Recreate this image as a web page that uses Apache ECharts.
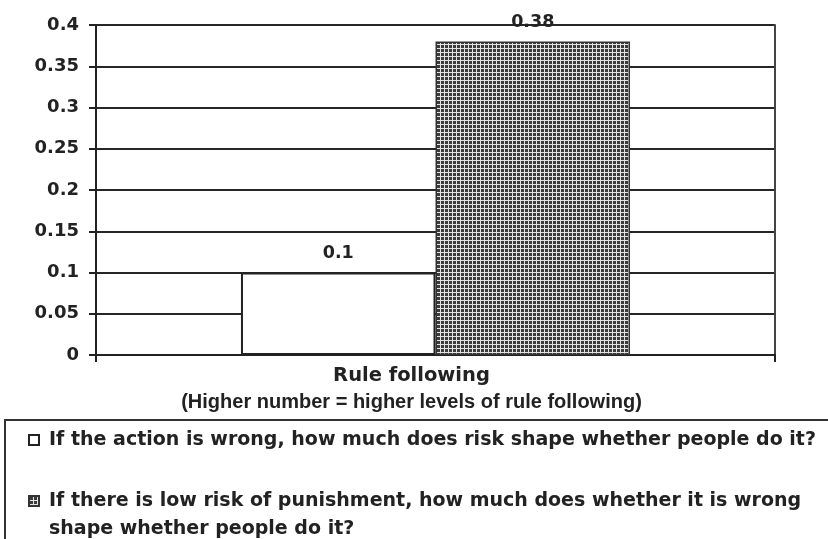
<!DOCTYPE html>
<html>
<head>
<meta charset="utf-8">
<script src="https://cdn.jsdelivr.net/npm/echarts@6/dist/echarts.min.js"></script>
<style>
  html, body { margin: 0; padding: 0; background: #fff; }
  #chart { width: 828px; height: 539px; }
</style>
</head>
<body>
<div id="chart"></div>
<script>
// Chart data
const categories = ['Rule following'];
const seriesNames = [
  'If the action is wrong, how much does risk shape whether people do it?',
  'If there is low risk of punishment, how much does whether it is wrong shape whether people do it?'
];
const riskShapeValues = [0.1];
const wrongShapeValues = [0.38];
const axisSubtitle = '(Higher number = higher levels of rule following)';
const yMin = 0;
const yMax = 0.4;
const yStep = 0.05;

const INK = '#222';
const TEXT_FONT = 'DejaVu Sans';

// Small checkered tile used to fill the second bar
function makeGridPattern() {
  const c = document.createElement('canvas');
  c.width = 4; c.height = 4;
  const ctx = c.getContext('2d');
  ctx.fillStyle = '#e4e4e4';
  ctx.fillRect(0, 0, 4, 4);
  ctx.fillStyle = '#3a3a3a';
  ctx.fillRect(1, 1, 3, 3);
  return c;
}
const gridPattern = { image: makeGridPattern(), repeat: 'repeat' };

// Legend icons: a 10px square inside a taller box so that the square
// sits level with the first line of each legend entry.
const iconCentered = 'path://M0,0 M0,14h10v10h-10z M15,38';
const iconTop = 'path://M0,0h10v10h-10z M15,38';

const chart = echarts.init(document.getElementById('chart'), null, { renderer: 'canvas' });

const labelStyle = {
  show: true,
  position: 'top',
  distance: 10,
  fontFamily: TEXT_FONT,
  fontWeight: 'bold',
  fontSize: 17.5,
  color: INK,
  formatter: p => String(p.value)
};

chart.setOption({
  animation: false,
  backgroundColor: '#fff',
  grid: { left: 96, right: 53, top: 25, bottom: 184 },
  xAxis: {
    type: 'category',
    data: categories,
    boundaryGap: true,
    axisLine: { show: true, lineStyle: { color: INK, width: 2 } },
    axisTick: { show: true, length: 7, lineStyle: { color: INK, width: 2 } },
    axisLabel: {
      margin: 11,
      fontFamily: TEXT_FONT,
      fontWeight: 'bold',
      fontSize: 19.5,
      color: INK,
      padding: [0, 48, 0, 0]
    },
    name: axisSubtitle,
    nameLocation: 'middle',
    nameGap: 37,
    nameTextStyle: {
      fontFamily: 'Arial, Liberation Sans, sans-serif',
      fontWeight: 'bold',
      fontSize: 20,
      color: INK,
      padding: [0, 48, 0, 0]
    }
  },
  yAxis: [
    {
      type: 'value',
      min: yMin,
      max: yMax,
      interval: yStep,
      axisLine: { show: true, lineStyle: { color: INK, width: 2 } },
      axisTick: { show: true, length: 7, lineStyle: { color: INK, width: 2 } },
      axisLabel: {
        margin: 17,
        fontFamily: TEXT_FONT,
        fontWeight: 'bold',
        fontSize: 18,
        color: INK
      },
      splitLine: { show: true, lineStyle: { color: '#262626', width: 2 } }
    },
    {
      type: 'value',
      position: 'right',
      min: yMin,
      max: yMax,
      interval: yStep,
      axisLine: { show: true, lineStyle: { color: '#444', width: 2 } },
      axisTick: { show: false },
      axisLabel: { show: false },
      splitLine: { show: false }
    }
  ],
  legend: {
    orient: 'vertical',
    left: 5,
    top: 420,
    width: 1200,
    height: 600,
    padding: [0, 80, 60, 23],
    itemGap: 27,
    itemWidth: 15,
    itemHeight: 38,
    selectedMode: false,
    borderColor: '#333',
    borderWidth: 2,
    align: 'left',
    textStyle: {
      fontFamily: TEXT_FONT,
      fontWeight: 'bold',
      fontSize: 19,
      lineHeight: 28,
      color: INK
    },
    formatter: name => name.replace('wrong shape', 'wrong\nshape'),
    data: [
      { name: seriesNames[0], icon: iconCentered },
      { name: seriesNames[1], icon: iconTop }
    ]
  },
  series: [
    {
      name: seriesNames[0],
      type: 'bar',
      data: riskShapeValues,
      barGap: '0%',
      barCategoryGap: '42.7%',
      itemStyle: { color: '#fff', borderColor: INK, borderWidth: 2 },
      label: labelStyle,
      emphasis: { disabled: true }
    },
    {
      name: seriesNames[1],
      type: 'bar',
      data: wrongShapeValues,
      barGap: '0%',
      barCategoryGap: '42.7%',
      itemStyle: { color: gridPattern, borderColor: '#333', borderWidth: 1.5 },
      label: labelStyle,
      emphasis: { disabled: true }
    }
  ]
});
</script>
</body>
</html>
